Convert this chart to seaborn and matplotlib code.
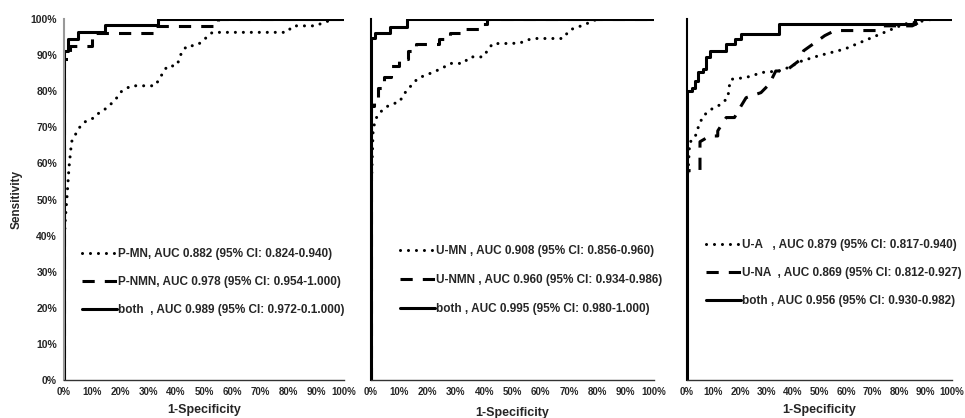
import matplotlib
matplotlib.use("Agg")
import matplotlib.pyplot as plt
import seaborn as sns
import pandas as pd

# ---------------- data (percent) ----------------
# Panel 1
p_mn_fpr = [0, 0, 0.5, 1, 1.8, 2.7, 4.5, 6, 8, 11, 12.5, 14.6, 18, 20.6, 24, 32.5, 34, 35.7, 37, 40, 41, 42, 44, 46.8, 49, 51, 53, 79.5, 81.8, 90, 92.5, 97, 100]
p_mn_tpr = [0, 37, 45, 50, 59, 66, 68.6, 70.5, 71.8, 72.7, 74, 75, 77.3, 80, 81.5, 81.5, 83.3, 85.6, 87, 87, 88.4, 90.8, 92.6, 92.6, 93.5, 95, 96.3, 96.3, 98.1, 98.1, 99, 100, 100]
p_nmn_fpr = [0, 0, 2, 2, 10, 10, 32, 32, 55, 55, 100]
p_nmn_tpr = [0, 89, 89, 92.6, 92.6, 96.1, 96.1, 98.1, 98.1, 100, 100]
p_both_fpr = [0, 0, 1.3, 1.3, 5, 5, 14.6, 14.6, 33.6, 33.6, 100]
p_both_tpr = [0, 91, 91, 94.4, 94.4, 96.4, 96.4, 98.2, 98.2, 100, 100]

# Panel 2
u_mn_fpr = [0, 0, 0.3, 0.7, 1.4, 3, 5.5, 7.8, 10.2, 11.3, 13.8, 16.6, 20.8, 25, 28, 32.5, 35, 39.6, 41.3, 43, 46.6, 52.6, 55, 58.5, 67.8, 70.3, 75, 78, 80, 100]
u_mn_tpr = [0, 50, 58, 68.4, 72, 74, 75.7, 76.5, 77.1, 78.9, 81.2, 83.6, 84.9, 86.3, 87.7, 87.7, 89.5, 89.5, 91.4, 93.2, 93.2, 93.3, 94.2, 94.6, 94.6, 97, 98.3, 99.3, 100, 100]
u_nmn_fpr = [0, 0, 1, 1, 2.5, 2.5, 4.5, 4.5, 7, 7, 10, 10, 13, 13, 16, 16, 24, 24, 28, 28, 32, 32, 38, 38, 41, 41, 100]
u_nmn_tpr = [0, 76, 76, 78, 78, 81, 81, 84, 84, 87, 87, 89, 89, 91, 91, 93, 93, 94.5, 94.5, 96, 96, 97.2, 97.2, 98.6, 98.6, 100, 100]
u_both_fpr = [0, 0, 1.4, 1.4, 6.7, 6.7, 12.6, 12.6, 100]
u_both_tpr = [0, 94.6, 94.6, 96, 96, 97.9, 97.9, 100, 100]

# Panel 3
u_a_fpr = [0, 0, 0.5, 1, 3, 4.2, 6, 9.2, 12.9, 15.4, 16, 16.7, 22.3, 28.5, 34.7, 38.4, 43.4, 49.6, 59.6, 67, 74.5, 82, 89.4, 93, 100]
u_a_tpr = [0, 55, 59, 65.8, 67.2, 69.9, 73.1, 75, 76.4, 78.2, 81.5, 83.3, 83.8, 85.2, 85.6, 86.6, 88.4, 89.8, 91.7, 94, 96.3, 98.6, 99.5, 100, 100]
u_na_fpr = [0, 0, 4.9, 4.9, 8.6, 11.6, 11.6, 14.8, 17.9, 20.4, 22.3, 27.9, 31, 33.5, 37.2, 42.2, 44, 48.4, 52, 55.8, 72, 74, 85, 90, 100]
u_na_tpr = [0, 58, 58, 66, 67.6, 67.6, 69, 72.7, 72.7, 75.9, 78.2, 79.6, 81.9, 85.6, 85.6, 88.4, 91.2, 93.5, 95.4, 96.8, 96.8, 98.1, 98.1, 100, 100]
u_both3_fpr = [0, 0, 1.7, 1.7, 3, 3, 4.2, 4.2, 6, 6, 7.3, 7.3, 8.6, 8.6, 14.8, 14.8, 18, 18, 20.4, 20.4, 34.7, 34.7, 86, 86, 100]
u_both3_tpr = [0, 80, 80, 81, 81, 82.9, 82.9, 85.2, 85.2, 86.1, 86.1, 89.4, 89.4, 91.2, 91.2, 93, 93, 94.4, 94.4, 95.8, 95.8, 98.6, 98.6, 100, 100]

panels = [
    [(p_mn_fpr, p_mn_tpr, "P-MN, AUC 0.882 (95% CI: 0.824-0.940)", "dot"),
     (p_nmn_fpr, p_nmn_tpr, "P-NMN, AUC 0.978 (95% CI: 0.954-1.000)", "dash"),
     (p_both_fpr, p_both_tpr, "both  , AUC 0.989 (95% CI: 0.972-0.1.000)", "solid")],
    [(u_mn_fpr, u_mn_tpr, "U-MN , AUC 0.908 (95% CI: 0.856-0.960)", "dot"),
     (u_nmn_fpr, u_nmn_tpr, "U-NMN , AUC 0.960 (95% CI: 0.934-0.986)", "dash"),
     (u_both_fpr, u_both_tpr, "both , AUC 0.995 (95% CI: 0.980-1.000)", "solid")],
    [(u_a_fpr, u_a_tpr, "U-A   , AUC 0.879 (95% CI: 0.817-0.940)", "dot"),
     (u_na_fpr, u_na_tpr, "U-NA  , AUC 0.869 (95% CI: 0.812-0.927)", "dash"),
     (u_both3_fpr, u_both3_tpr, "both , AUC 0.956 (95% CI: 0.930-0.982)", "solid")],
]
tick_vals = [0, 10, 20, 30, 40, 50, 60, 70, 80, 90, 100]
tick_labels = ["0%", "10%", "20%", "30%", "40%", "50%", "60%", "70%", "80%", "90%", "100%"]

# ---------------- style ----------------
sns.set_theme(style="white")
plt.rcParams['font.family'] = ['Liberation Sans', 'DejaVu Sans']
plt.rcParams['font.weight'] = 'bold'

fig = plt.figure(figsize=(9.65, 4.18), dpi=100)
bottom = 38 / 418
height = 361 / 418
axes_rects = [
    (64 / 965, bottom, 280 / 965, height),
    (371 / 965, bottom, 283 / 965, height),
    (687 / 965, bottom, 265 / 965, height),
]
legend_anchor = [(0.064, 0.272), (0.1025, 0.277), (0.071, 0.297)]
legend_spacing = [1.35, 1.45, 1.35]
xlabel_pad = [5, 7, 5]

LW = 2.2
styles = {
    "dot": dict(linestyle=(0, (0.01, 2.6)), dash_capstyle="round", lw=LW),
    "dash": dict(linestyle=(0, (4, 3.3)), dash_capstyle="butt", lw=LW),
    "solid": dict(linestyle="-", lw=LW),
}

for i, (rect, series) in enumerate(zip(axes_rects, panels)):
    ax = fig.add_axes(rect)
    for fpr, tpr, label, st in series:
        df = pd.DataFrame({"fpr": fpr, "tpr": tpr})
        sns.lineplot(data=df, x="fpr", y="tpr", ax=ax, color="black",
                     sort=False, estimator=None, label=label, **styles[st])
    ax.set_xlim(0, 100)
    ax.set_ylim(0, 100)
    ax.set_xticks(tick_vals)
    ax.set_xticklabels(tick_labels, fontsize=7, fontweight="bold")
    ax.tick_params(axis="x", direction="out", length=3, width=0.8, color="#555555", pad=2)
    if i == 0:
        ax.set_yticks(tick_vals)
        ax.set_yticklabels(tick_labels, fontsize=7.5, fontweight="bold")
        ax.tick_params(axis="y", length=0, pad=5)
        ax.set_ylabel("Sensitivity", fontsize=8.5, fontweight="bold", labelpad=6)
    else:
        ax.set_yticks([])
        ax.set_ylabel("")
    ax.set_xlabel("1-Specificity", fontsize=9, fontweight="bold", labelpad=xlabel_pad[i])
    for s in ["top", "right"]:
        ax.spines[s].set_visible(False)
    ax.spines["left"].set_color("#999999" if i == 0 else "black")
    ax.spines["left"].set_linewidth(1.5)
    ax.spines["bottom"].set_color("#333333")
    ax.spines["bottom"].set_linewidth(1.0)
    ax.grid(False)
    leg = ax.legend(loc="center left", bbox_to_anchor=legend_anchor[i], frameon=False,
                    fontsize=8.5, handlelength=3.0, handletextpad=0.05,
                    labelspacing=legend_spacing[i], borderpad=0, borderaxespad=0)
    for t in leg.get_texts():
        t.set_fontweight("bold")

fig.savefig("out.png", dpi=100)
